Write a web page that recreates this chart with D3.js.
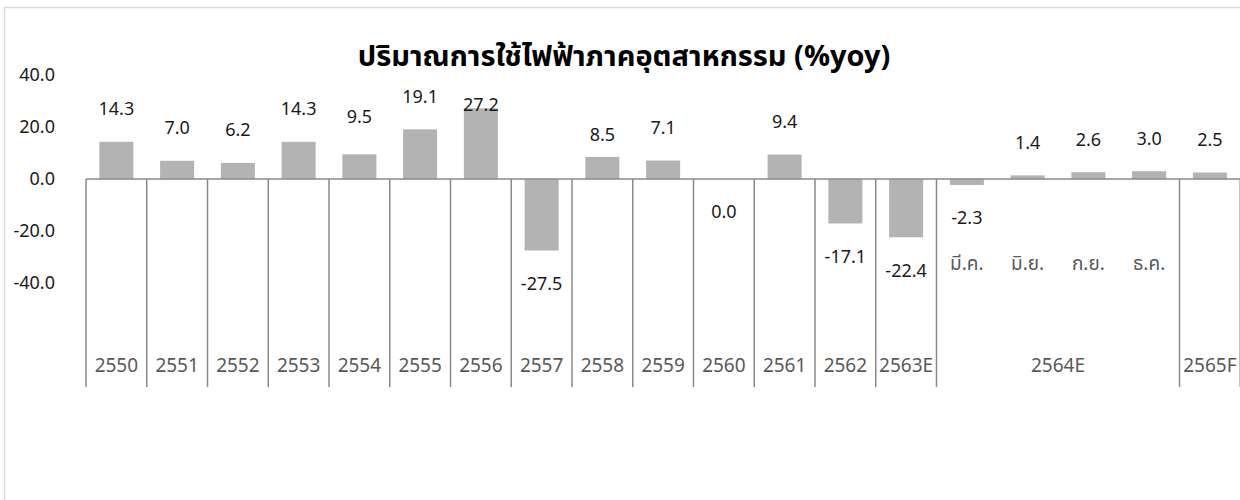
<!DOCTYPE html>
<html>
<head>
<meta charset="utf-8">
<script src="https://cdn.jsdelivr.net/npm/d3@7"></script>
<style>
  html, body { margin: 0; padding: 0; background: #fff; }
  svg { display: block; }
  text { font-family: "Leelawadee UI", "Noto Sans Thai", "Noto Sans", sans-serif; }
</style>
</head>
<body>
<svg id="chart" width="1240" height="500"></svg>
<script>
// ---- data ----
const title = "ปริมาณการใช้ไฟฟ้าภาคอุตสาหกรรม (%yoy)";
const slotYears = ["2550","2551","2552","2553","2554","2555","2556","2557","2558","2559","2560","2561","2562","2563E","2564E","2564E","2564E","2564E","2565F"];
const slotSubs  = ["","","","","","","","","","","","","","","มี.ค.","มิ.ย.","ก.ย.","ธ.ค.",""];
const values    = [14.3, 7.0, 6.2, 14.3, 9.5, 19.1, 27.2, -27.5, 8.5, 7.1, 0.0, 9.4, -17.1, -22.4, -2.3, 1.4, 2.6, 3.0, 2.5];
const yTicks    = [40, 20, 0, -20, -40];

// ---- layout ----
const svg = d3.select("#chart");
const W = 1240, H = 500;
const plotLeft = 86, slotW = 60.75;
const keys = values.map((d, i) => i);

const x = d3.scaleBand()
  .domain(keys)
  .range([plotLeft, plotLeft + slotW * keys.length])
  .paddingInner(0.44)
  .paddingOuter(0.22);

const y = d3.scaleLinear().domain([-80, 40]).range([387, 75]);
const FONT = '"Leelawadee UI", "Noto Sans Thai", "Noto Sans", sans-serif';

// outer chart border
svg.append("rect")
  .attr("x", 4.5).attr("y", 7.5)
  .attr("width", W + 50).attr("height", H + 50)
  .attr("fill", "#fff").attr("stroke", "#d9d9d9").attr("stroke-width", 1.5);

// title
svg.append("text")
  .attr("x", 624).attr("y", 66)
  .attr("text-anchor", "middle")
  .attr("font-size", 29).attr("font-weight", "bold")
  .attr("fill", "#000")
  .text(title);

// y-axis labels (no axis line)
const yAxis = d3.axisLeft(y).tickValues(yTicks).tickFormat(d => d.toFixed(1)).tickSize(0).tickPadding(0);
const yg = svg.append("g").attr("transform", "translate(55,0)").call(yAxis);
yg.select(".domain").remove();
yg.selectAll("text").attr("font-size", 18).attr("fill", "#1a1a1a").style("font-family", FONT);

// bars
svg.append("g").selectAll("rect")
  .data(values)
  .join("rect")
  .attr("x", (d, i) => x(i))
  .attr("width", x.bandwidth())
  .attr("y", d => y(Math.max(0, d)))
  .attr("height", d => Math.abs(y(d) - y(0)))
  .attr("fill", "#b3b3b3");

// zero line
svg.append("line")
  .attr("x1", plotLeft).attr("x2", W + 10)
  .attr("y1", y(0)).attr("y2", y(0))
  .attr("stroke", "#8a8a8a").attr("stroke-width", 1.5);

// category groups (multi-level axis)
const groups = [];
slotYears.forEach((yr, i) => {
  const last = groups[groups.length - 1];
  if (last && last.label === yr) last.end = i;
  else groups.push({ label: yr, start: i, end: i });
});
const edge = i => plotLeft + i * x.step();

const boundaries = groups.map(g => g.start).concat([slotYears.length]);
svg.append("g").selectAll("line")
  .data(boundaries)
  .join("line")
  .attr("x1", d => edge(d)).attr("x2", d => edge(d))
  .attr("y1", y(0)).attr("y2", y(-80))
  .attr("stroke", "#8a8a8a").attr("stroke-width", 1.5);

svg.append("g").selectAll("text")
  .data(groups)
  .join("text")
  .attr("x", g => (edge(g.start) + edge(g.end + 1)) / 2)
  .attr("y", 372)
  .attr("text-anchor", "middle")
  .attr("font-size", 19).attr("fill", "#595959")
  .text(g => g.label);

svg.append("g").selectAll("text")
  .data(slotSubs.map((s, i) => ({ s, i })).filter(d => d.s))
  .join("text")
  .attr("x", d => x(d.i) + x.bandwidth() / 2)
  .attr("y", 270)
  .attr("text-anchor", "middle")
  .attr("font-size", 19).attr("fill", "#595959")
  .text(d => d.s);

// data labels
const labelNudge = { 4: -5, 6: 29, 8: 11 };
svg.append("g").selectAll("text")
  .data(values)
  .join("text")
  .attr("x", (d, i) => x(i) + x.bandwidth() / 2)
  .attr("y", (d, i) => (d > 0 ? y(d) - 33 : y(d) + 33) + (labelNudge[i] || 0))
  .attr("dy", "0.35em")
  .attr("text-anchor", "middle")
  .attr("font-size", 18).attr("fill", "#1a1a1a")
  .text(d => d.toFixed(1));
</script>
</body>
</html>
